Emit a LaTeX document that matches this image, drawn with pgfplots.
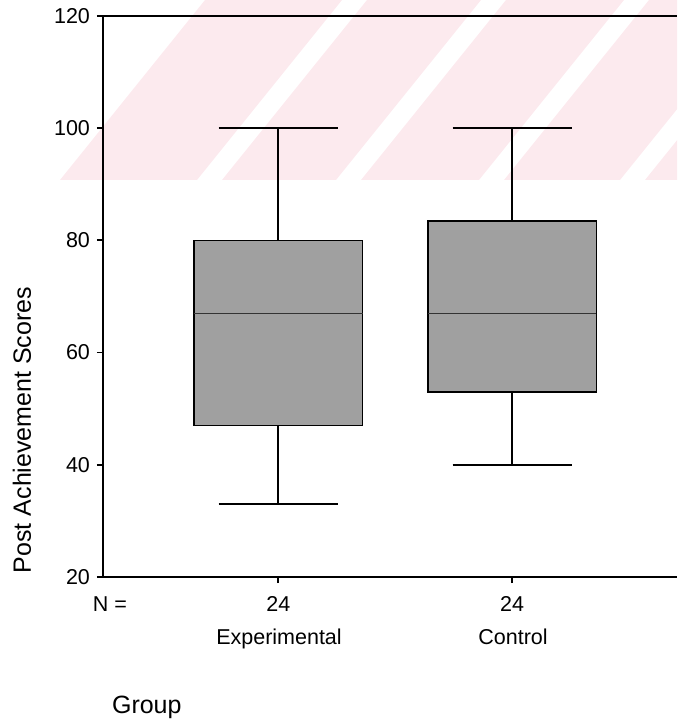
\documentclass[border=0pt]{standalone}
\usepackage{pgfplots}
\pgfplotsset{compat=1.18}
\usepgfplotslibrary{statistics}
\usepackage{fontspec}
\setmainfont{Liberation Sans}
\definecolor{boxgray}{RGB}{160,160,160}
\definecolor{wmpink}{RGB}{252,234,238}
\begin{document}
\begin{tikzpicture}[x=0.5pt,y=0.5pt]
% light watermark stripes behind the chart (origin = lower-left axis corner, 1 unit = 1 px)
\begin{scope}
\clip (-43,397) rectangle (574,577);
\foreach \b/\w in {60/137, 222/114, 361/118, 504/116, 645/118}{
  \fill[wmpink] ({\b-103},{577-180}) -- ({\b+\w-103},{577-180}) -- ({\b+\w+145-103},577) -- ({\b+145-103},577) -- cycle;
}
\end{scope}
\begin{axis}[
  at={(0pt,0pt)}, anchor=south west,
  scale only axis, width=287pt, height=280.5pt,
  xmin=0.25, xmax=2.705, ymin=20, ymax=120,
  axis lines=left, axis line style={-, line width=1pt},
  tick align=outside, tick style={line width=0.9pt, black},
  major tick length=3pt,
  ytick={20,40,60,80,100,120},
  xtick={1,2}, xticklabels={24,24},
  /pgf/number format/assume math mode=true,
  tick label style={font=\fontsize{10.75}{12}\selectfont},
  xticklabel style={anchor=base, yshift=-14pt},
  clip=false,
  boxplot/draw direction=y,
]
\addplot+[boxplot prepared={median=67, upper quartile=80, lower quartile=47,
  upper whisker=100, lower whisker=33, draw position=1, box extend=0.72, whisker extend=0.51},
  draw=black, fill=boxgray, line width=0.8pt, solid, mark=none,
  boxplot/every median/.style={line width=0.5pt, black!80},
  boxplot/every whisker/.style={line width=1pt}] coordinates {};
\addplot+[boxplot prepared={median=67, upper quartile=83.5, lower quartile=53,
  upper whisker=100, lower whisker=40, draw position=2, box extend=0.72, whisker extend=0.51},
  draw=black, fill=boxgray, line width=0.8pt, solid, mark=none,
  boxplot/every median/.style={line width=0.5pt, black!80},
  boxplot/every whisker/.style={line width=1pt}] coordinates {};
\draw[line width=1pt] (rel axis cs:0,1) -- (rel axis cs:1,1);
\end{axis}
\node[anchor=base, font=\fontsize{10.75}{12}\selectfont] at (7,-35) {N =};
\node[anchor=base, font=\fontsize{10.75}{12}\selectfont] at (176,-68) {Experimental};
\node[anchor=base, font=\fontsize{10.75}{12}\selectfont] at (410,-68) {Control};
\node[anchor=base west, font=\fontsize{12.5}{14}\selectfont] at (2,-136) {Group};
\node[rotate=90, font=\fontsize{12.5}{14}\selectfont] at (-81,147) {Post Achievement Scores};
\pgfresetboundingbox
\path (-103,-144) rectangle (574,577);
\end{tikzpicture}
\end{document}
